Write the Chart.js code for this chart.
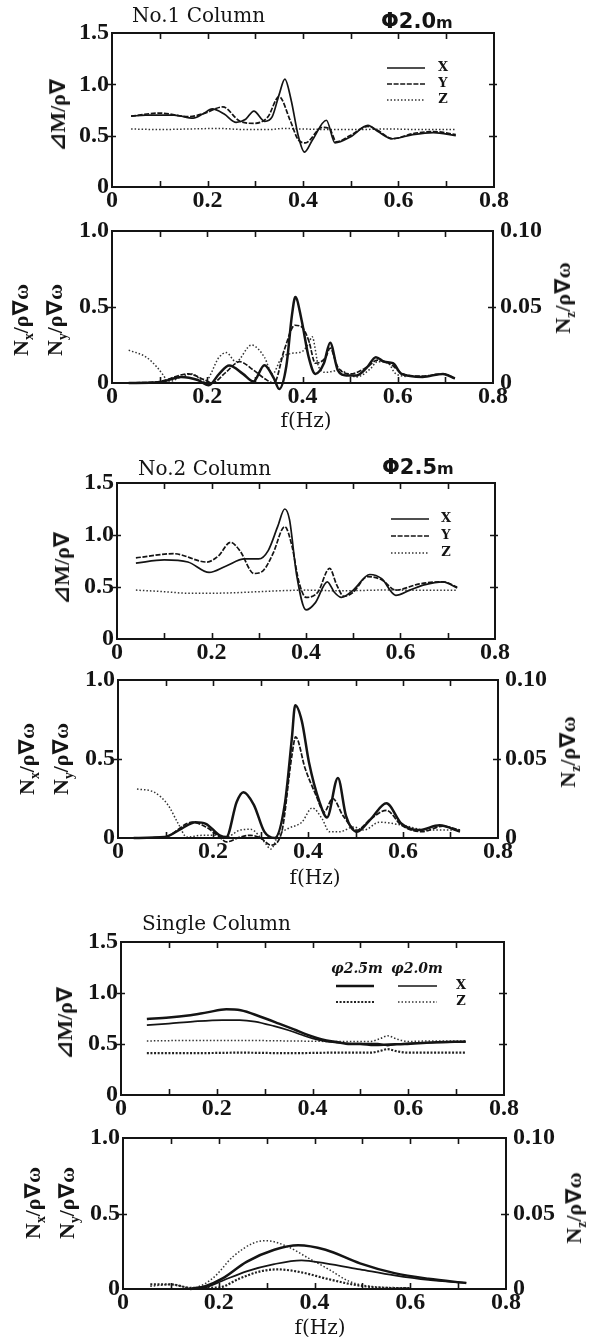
<!DOCTYPE html>
<html lang="en">
<head>
  <meta charset="UTF-8" />
  <title>Column force spectra</title>
  <script src="https://cdn.jsdelivr.net/npm/chart.js"></script>
  <style>
    body {
      margin: 0;
      background: #ffffff;
    }

    #page {
      position: relative;
      width: 600px;
      height: 1337px;
      overflow: hidden;
      color: #141414;
      font-family: 'DejaVu Serif', 'DejaVu Sans', 'Noto Sans CJK JP', serif;
    }

    #page canvas {
      position: absolute;
      left: 0;
    }

    .lbl {
      position: absolute;
      white-space: nowrap;
      line-height: 1;
    }

    .title {
      font-size: 20px;
      transform: translateY(-50%);
    }

    .dia {
      font-family: 'DejaVu Sans', sans-serif;
      font-weight: bold;
      font-size: 21px;
      transform: translateY(-50%);
    }

    .dia small {
      font-size: 16px;
    }

    .vt {
      font-family: 'Liberation Serif', 'DejaVu Sans', 'Noto Sans CJK JP', serif;
      font-size: 22px;
      font-weight: bold;
      transform: translate(-50%, -50%) rotate(-90deg);
    }

    .xt {
      font-size: 20px;
      transform: translate(-50%, -50%);
    }

    .lbl sub {
      font-size: 0.62em;
    }
  </style>
</head>
<body>
  <div id="page">
    <canvas id="c1"></canvas>
    <canvas id="c2"></canvas>
    <canvas id="c3"></canvas>
    <canvas id="c4"></canvas>
    <canvas id="c5"></canvas>
    <canvas id="c6"></canvas>

    <div class="lbl title" style="left:132px; top:15px;">No.1 Column</div>
    <div class="lbl dia" style="left:381px; top:21px;">Φ2.0<small>m</small></div>
    <div class="lbl vt" style="left:58px; top:115px;">⊿M/ρ∇</div>

    <div class="lbl vt" style="left:23px; top:320px;">N<sub>x</sub>/ρ∇ω</div>
    <div class="lbl vt" style="left:57px; top:320px;">N<sub>y</sub>/ρ∇ω</div>
    <div class="lbl vt" style="left:565px; top:298px;">N<sub>z</sub>/ρ∇ω</div>
    <div class="lbl xt" style="left:306px; top:420px;">f(Hz)</div>

    <div class="lbl title" style="left:138px; top:468px;">No.2 Column</div>
    <div class="lbl dia" style="left:382px; top:467px;">Φ2.5<small>m</small></div>
    <div class="lbl vt" style="left:62px; top:568px;">⊿M/ρ∇</div>

    <div class="lbl vt" style="left:29px; top:759px;">N<sub>x</sub>/ρ∇ω</div>
    <div class="lbl vt" style="left:63px; top:759px;">N<sub>y</sub>/ρ∇ω</div>
    <div class="lbl vt" style="left:570px; top:752px;">N<sub>z</sub>/ρ∇ω</div>
    <div class="lbl xt" style="left:315px; top:877px;">f(Hz)</div>

    <div class="lbl title" style="left:142px; top:923px;">Single Column</div>
    <div class="lbl vt" style="left:65px; top:1023px;">⊿M/ρ∇</div>

    <div class="lbl vt" style="left:35px; top:1203px;">N<sub>x</sub>/ρ∇ω</div>
    <div class="lbl vt" style="left:69px; top:1203px;">N<sub>y</sub>/ρ∇ω</div>
    <div class="lbl vt" style="left:576px; top:1208px;">N<sub>z</sub>/ρ∇ω</div>
    <div class="lbl xt" style="left:320px; top:1327px;">f(Hz)</div>
  </div>

  <script>
    // ---- No.1 column (Φ2.0m): moment amplitude ----
    const no1MomX_f = [0.04, 0.07, 0.10, 0.13, 0.17, 0.19, 0.21, 0.235, 0.26, 0.28, 0.297, 0.32, 0.335, 0.35, 0.362, 0.375, 0.39, 0.403, 0.42, 0.449, 0.467, 0.50, 0.536, 0.557, 0.587, 0.63, 0.673, 0.72];
    const no1MomX   = [0.69, 0.70, 0.70, 0.70, 0.67, 0.71, 0.76, 0.71, 0.63, 0.66, 0.74, 0.64, 0.68, 0.90, 1.05, 0.85, 0.50, 0.34, 0.46, 0.65, 0.43, 0.49, 0.60, 0.54, 0.47, 0.51, 0.53, 0.50];
    const no1MomY_f = [0.04, 0.10, 0.16, 0.195, 0.232, 0.268, 0.297, 0.326, 0.35, 0.373, 0.39, 0.405, 0.44, 0.455, 0.47, 0.50, 0.536, 0.557, 0.587, 0.63, 0.673, 0.72];
    const no1MomY   = [0.69, 0.72, 0.685, 0.72, 0.78, 0.64, 0.62, 0.68, 0.88, 0.65, 0.46, 0.43, 0.58, 0.57, 0.44, 0.505, 0.59, 0.55, 0.47, 0.52, 0.54, 0.51];
    const no1MomZ_f = [0.04, 0.10, 0.16, 0.22, 0.28, 0.33, 0.36, 0.40, 0.46, 0.52, 0.58, 0.64, 0.72];
    const no1MomZ   = [0.565, 0.56, 0.565, 0.57, 0.56, 0.56, 0.57, 0.565, 0.56, 0.56, 0.565, 0.56, 0.56];

    // ---- No.1 column: axial force (Z on the right-hand scale) ----
    const no1NX_f = [0.035, 0.10, 0.145, 0.18, 0.203, 0.225, 0.246, 0.275, 0.297, 0.32, 0.34, 0.351, 0.366, 0.378, 0.385, 0.398, 0.413, 0.427, 0.445, 0.458, 0.474, 0.492, 0.514, 0.536, 0.554, 0.572, 0.59, 0.608, 0.652, 0.695, 0.72];
    const no1NX   = [0, 0.005, 0.04, 0.02, -0.015, 0.06, 0.115, 0.06, 0.01, 0.117, 0.03, -0.04, 0.11, 0.45, 0.565, 0.415, 0.17, 0.06, 0.13, 0.265, 0.085, 0.05, 0.05, 0.105, 0.17, 0.14, 0.13, 0.06, 0.04, 0.06, 0.03];
    const no1NY_f = [0.035, 0.10, 0.16, 0.195, 0.21, 0.239, 0.268, 0.297, 0.32, 0.34, 0.362, 0.384, 0.398, 0.413, 0.427, 0.449, 0.458, 0.474, 0.50, 0.536, 0.557, 0.587, 0.61, 0.65, 0.695, 0.72];
    const no1NY   = [0, 0.01, 0.06, 0.02, 0, 0.07, 0.14, 0.085, 0.03, 0, 0.22, 0.38, 0.37, 0.28, 0.13, 0.17, 0.23, 0.105, 0.06, 0.105, 0.15, 0.12, 0.06, 0.045, 0.06, 0.03];
    const no1NZ_f = [0.035, 0.072, 0.094, 0.108, 0.118, 0.145, 0.167, 0.195, 0.225, 0.24, 0.26, 0.293, 0.32, 0.337, 0.355, 0.377, 0.398, 0.413, 0.42, 0.434, 0.449, 0.478, 0.50, 0.514, 0.543, 0.557, 0.58, 0.594, 0.62];
    const no1NZ   = [0.0216, 0.017, 0.0106, 0.005, 0.0007, 0.004, 0.006, 0.001, 0.017, 0.02, 0.014, 0.025, 0.017, 0.006, 0.016, 0.0195, 0.0205, 0.026, 0.0305, 0.0106, 0.007, 0.0085, 0.005, 0.004, 0.0095, 0.014, 0.013, 0.0066, 0.004];

    // ---- No.2 column (Φ2.5m): moment amplitude ----
    const no2MomX_f = [0.04, 0.10, 0.15, 0.195, 0.23, 0.27, 0.30, 0.32, 0.34, 0.355, 0.365, 0.38, 0.40, 0.42, 0.445, 0.46, 0.475, 0.50, 0.535, 0.56, 0.59, 0.62, 0.65, 0.69, 0.72];
    const no2MomX   = [0.73, 0.76, 0.74, 0.64, 0.70, 0.77, 0.77, 0.85, 1.08, 1.25, 1.15, 0.62, 0.28, 0.35, 0.55, 0.45, 0.40, 0.47, 0.62, 0.58, 0.42, 0.47, 0.52, 0.55, 0.49];
    const no2MomY_f = [0.04, 0.12, 0.19, 0.215, 0.24, 0.26, 0.29, 0.31, 0.33, 0.355, 0.37, 0.385, 0.40, 0.425, 0.45, 0.465, 0.48, 0.50, 0.53, 0.56, 0.59, 0.64, 0.69, 0.72];
    const no2MomY   = [0.78, 0.82, 0.74, 0.80, 0.93, 0.85, 0.63, 0.66, 0.82, 1.08, 0.90, 0.55, 0.40, 0.45, 0.68, 0.52, 0.41, 0.45, 0.60, 0.57, 0.47, 0.53, 0.55, 0.50];
    const no2MomZ_f = [0.04, 0.10, 0.15, 0.20, 0.25, 0.30, 0.35, 0.40, 0.45, 0.50, 0.55, 0.60, 0.65, 0.72];
    const no2MomZ   = [0.47, 0.455, 0.44, 0.44, 0.445, 0.455, 0.465, 0.47, 0.465, 0.465, 0.47, 0.47, 0.468, 0.47];

    // ---- No.2 column: axial force ----
    const no2NX_f = [0.033, 0.098, 0.134, 0.163, 0.185, 0.214, 0.228, 0.25, 0.264, 0.286, 0.308, 0.33, 0.351, 0.366, 0.373, 0.387, 0.402, 0.424, 0.44, 0.463, 0.48, 0.503, 0.532, 0.565, 0.597, 0.634, 0.677, 0.72];
    const no2NX   = [0, 0.006, 0.06, 0.10, 0.09, 0.017, 0.006, 0.23, 0.29, 0.21, 0.04, 0, 0.21, 0.63, 0.84, 0.74, 0.48, 0.23, 0.13, 0.38, 0.14, 0.04, 0.12, 0.22, 0.09, 0.05, 0.08, 0.04];
    const no2NY_f = [0.033, 0.098, 0.156, 0.185, 0.214, 0.228, 0.257, 0.279, 0.30, 0.322, 0.344, 0.366, 0.374, 0.394, 0.417, 0.434, 0.452, 0.474, 0.503, 0.532, 0.565, 0.597, 0.64, 0.684, 0.72];
    const no2NY   = [0, 0.006, 0.10, 0.07, 0.006, -0.025, 0.006, 0.017, 0, -0.045, 0.03, 0.52, 0.64, 0.44, 0.27, 0.165, 0.25, 0.14, 0.05, 0.12, 0.175, 0.08, 0.04, 0.075, 0.05];
    const no2NZ_f = [0.04, 0.076, 0.105, 0.127, 0.145, 0.177, 0.206, 0.228, 0.257, 0.279, 0.308, 0.322, 0.337, 0.358, 0.387, 0.409, 0.43, 0.445, 0.467, 0.496, 0.518, 0.55, 0.6, 0.65, 0.72];
    const no2NZ   = [0.031, 0.029, 0.021, 0.009, 0.0006, 0.0017, 0.0017, 0.0006, 0.005, 0.0055, -0.0025, -0.007, 0.0017, 0.006, 0.010, 0.019, 0.012, 0.004, 0.004, 0.007, 0.005, 0.010, 0.008, 0.005, 0.005];

    // ---- Single column, both diameters: moment amplitude ----
    const sglMomX25_f = [0.054, 0.10, 0.14, 0.18, 0.22, 0.25, 0.29, 0.33, 0.363, 0.39, 0.42, 0.45, 0.478, 0.50, 0.528, 0.56, 0.593, 0.65, 0.72];
    const sglMomX25   = [0.745, 0.76, 0.78, 0.81, 0.84, 0.83, 0.77, 0.70, 0.64, 0.59, 0.545, 0.52, 0.50, 0.50, 0.49, 0.495, 0.50, 0.515, 0.525];
    const sglMomX20_f = [0.054, 0.10, 0.15, 0.212, 0.248, 0.28, 0.32, 0.35, 0.377, 0.40, 0.428, 0.46, 0.50, 0.536, 0.557, 0.58, 0.62, 0.72];
    const sglMomX20   = [0.685, 0.70, 0.72, 0.735, 0.735, 0.72, 0.675, 0.635, 0.59, 0.555, 0.525, 0.51, 0.505, 0.505, 0.485, 0.50, 0.51, 0.52];
    const sglMomZ_f   = [0.054, 0.15, 0.25, 0.35, 0.45, 0.52, 0.54, 0.557, 0.575, 0.60, 0.65, 0.72];
    const sglMomZ25   = [0.41, 0.41, 0.415, 0.41, 0.415, 0.415, 0.43, 0.45, 0.43, 0.415, 0.415, 0.415];
    const sglMomZ20   = [0.53, 0.535, 0.535, 0.53, 0.525, 0.525, 0.55, 0.58, 0.55, 0.525, 0.53, 0.53];

    // ---- Single column: axial force ----
    const sglNX25_f = [0.14, 0.172, 0.208, 0.258, 0.316, 0.366, 0.423, 0.495, 0.567, 0.638, 0.717];
    const sglNX25   = [0, 0.018, 0.07, 0.18, 0.26, 0.29, 0.26, 0.17, 0.105, 0.068, 0.04];
    const sglNX20_f = [0.14, 0.172, 0.208, 0.258, 0.316, 0.373, 0.423, 0.495, 0.567, 0.638, 0.717];
    const sglNX20   = [0, 0.01, 0.055, 0.117, 0.165, 0.19, 0.17, 0.13, 0.09, 0.06, 0.04];
    const sglNZ20_f = [0.057, 0.10, 0.143, 0.187, 0.23, 0.273, 0.30, 0.344, 0.387, 0.43, 0.473, 0.516, 0.60];
    const sglNZ20   = [0.0018, 0.003, 0.0007, 0.007, 0.0215, 0.0305, 0.032, 0.028, 0.0205, 0.013, 0.005, 0.0018, 0.0007];
    const sglNZ25_f = [0.057, 0.10, 0.143, 0.20, 0.244, 0.287, 0.323, 0.373, 0.423, 0.48, 0.53, 0.60];
    const sglNZ25   = [0.003, 0.003, 0.0007, 0.001, 0.007, 0.0117, 0.013, 0.011, 0.007, 0.003, 0.001, 0.0005];

    const INK = '#141414';
    const SERIF = "'DejaVu Serif', serif";
    const tickFont = { family: "'Liberation Serif', serif", size: 24, weight: 'bold', lineHeight: 1 };

    const zip = (f, v) => f.map((x, i) => ({ x, y: v[i] }));

    const line = (label, f, v, style, axis = 'y') => ({
      label,
      data: zip(f, v),
      yAxisID: axis,
      borderColor: style.color || INK,
      borderWidth: style.width,
      borderDash: style.dash || [],
      pointRadius: 0,
      fill: false,
      clip: false,
      cubicInterpolationMode: 'monotone'
    });

    const SOLID = { width: 1.7 };
    const SOLID_BOLD = { width: 2.5 };
    const DASHED = { width: 1.7, dash: [5, 1.6] };
    const DOTTED = { width: 1.5, dash: [1.5, 2], color: '#333' };
    const DOTTED_BOLD = { width: 2.2, dash: [2, 1.6], color: '#222' };

    // box outline; x ticks point inward, y ticks straddle the frame
    const framePlugin = {
      id: 'frame',
      afterDatasetsDraw(chart) {
        const { ctx, chartArea: a, scales } = chart;
        const len = 6;
        ctx.save();
        ctx.strokeStyle = INK;
        ctx.lineWidth = 1.6;
        ctx.beginPath();
        scales.x.ticks.forEach((t, i, arr) => {
          if (i === 0 || i === arr.length - 1) return;
          const px = Math.round(scales.x.getPixelForValue(t.value)) + 0.5;
          ctx.moveTo(px, a.bottom); ctx.lineTo(px, a.bottom - len);
          ctx.moveTo(px, a.top); ctx.lineTo(px, a.top + len);
        });
        scales.y.ticks.forEach((t, i, arr) => {
          if (i === 0 || i === arr.length - 1) return;
          const py = Math.round(scales.y.getPixelForValue(t.value)) + 0.5;
          ctx.moveTo(a.left - 4, py); ctx.lineTo(a.left + 4, py);
          ctx.moveTo(a.right + 3, py); ctx.lineTo(a.right - 5, py);
        });
        ctx.stroke();
        ctx.lineWidth = 2;
        ctx.strokeRect(a.left, a.top, a.right - a.left, a.bottom - a.top);
        ctx.restore();
      }
    };

    // small line-style key drawn inside the plot
    const keyPlugin = {
      id: 'lineKey',
      afterDatasetsDraw(chart, args, opts) {
        const { ctx } = chart;
        const off = opts.top || 0;
        (opts.rows || []).forEach(r => {
          const ds = chart.data.datasets[r.ds];
          ctx.save();
          ctx.strokeStyle = ds.borderColor;
          ctx.lineWidth = ds.borderWidth;
          ctx.setLineDash(ds.borderDash || []);
          ctx.beginPath();
          ctx.moveTo(r.x1, r.y - off);
          ctx.lineTo(r.x2, r.y - off);
          ctx.stroke();
          ctx.restore();
        });
        (opts.texts || []).forEach(t => {
          ctx.save();
          ctx.font = t.font;
          ctx.fillStyle = INK;
          ctx.textAlign = 'center';
          ctx.textBaseline = 'middle';
          ctx.fillText(t.text, t.x, t.y - off);
          ctx.restore();
        });
      }
    };

    const fmtX = v => {
      const k = Math.round(v * 10);
      if (k % 2) return '';
      return k === 0 ? '0' : (k / 10).toFixed(1);
    };

    function buildPanel(id, box, datasets, opts = {}) {
      const padTop = 25, axisH = 40;
      const canvas = document.getElementById(id);
      const top = box.T - padTop;
      canvas.width = 600;
      canvas.height = padTop + (box.B - box.T) + axisH;
      canvas.style.top = top + 'px';

      const noGrid = { display: false, drawTicks: false };
      const scales = {
        x: {
          type: 'linear',
          min: 0,
          max: 0.8,
          grid: noGrid,
          border: { display: false },
          afterFit: s => { s.height = axisH; },
          ticks: { stepSize: 0.1, autoSkip: false, maxRotation: 0, padding: 2, color: INK, font: tickFont, callback: fmtX }
        },
        y: {
          min: 0,
          max: box.yMax,
          grid: noGrid,
          border: { display: false },
          afterFit: s => { s.width = box.L; },
          ticks: { stepSize: 0.5, padding: 3, color: INK, font: tickFont, callback: v => v === 0 ? '0' : v.toFixed(1) }
        }
      };
      if (box.right) {
        scales.y2 = {
          position: 'right',
          min: 0,
          max: 0.1,
          grid: noGrid,
          border: { display: false },
          afterFit: s => { s.width = 600 - box.R; },
          ticks: { stepSize: 0.05, padding: 7, color: INK, font: tickFont, callback: v => v === 0 ? '0' : v.toFixed(2) }
        };
      }

      return new Chart(canvas, {
        type: 'line',
        data: { datasets },
        plugins: [framePlugin, keyPlugin],
        options: {
          responsive: false,
          animation: false,
          events: [],
          layout: { padding: { top: padTop, left: 0, bottom: 0, right: box.right ? 0 : 600 - box.R } },
          plugins: {
            legend: { display: false },
            tooltip: { enabled: false },
            lineKey: Object.assign({ top }, opts.key || {})
          },
          scales
        }
      });
    }

    const keyXYZ = (x1, x2, y0, step, tx) => ({
      rows: [
        { ds: 0, x1, x2, y: y0 },
        { ds: 1, x1, x2, y: y0 + step },
        { ds: 2, x1, x2, y: y0 + 2 * step }
      ],
      texts: [
        { text: 'X', x: tx, y: y0, font: `bold 13px ${SERIF}` },
        { text: 'Y', x: tx, y: y0 + step, font: `bold 13px ${SERIF}` },
        { text: 'Z', x: tx, y: y0 + 2 * step, font: `bold 13px ${SERIF}` }
      ]
    });

    buildPanel('c1', { L: 112, R: 494, T: 33, B: 187, yMax: 1.5 }, [
      line('X', no1MomX_f, no1MomX, SOLID),
      line('Y', no1MomY_f, no1MomY, DASHED),
      line('Z', no1MomZ_f, no1MomZ, DOTTED)
    ], { key: keyXYZ(387, 425, 68, 16, 443) });

    buildPanel('c2', { L: 112, R: 493, T: 231, B: 383, yMax: 1.0, right: true }, [
      line('X', no1NX_f, no1NX, SOLID_BOLD),
      line('Y', no1NY_f, no1NY, DASHED),
      line('Z', no1NZ_f, no1NZ, DOTTED, 'y2')
    ]);

    buildPanel('c3', { L: 117, R: 495, T: 483, B: 639, yMax: 1.5 }, [
      line('X', no2MomX_f, no2MomX, SOLID),
      line('Y', no2MomY_f, no2MomY, DASHED),
      line('Z', no2MomZ_f, no2MomZ, DOTTED)
    ], { key: keyXYZ(391, 429, 519, 17, 446) });

    buildPanel('c4', { L: 118, R: 498, T: 680, B: 838, yMax: 1.0, right: true }, [
      line('X', no2NX_f, no2NX, SOLID_BOLD),
      line('Y', no2NY_f, no2NY, DASHED),
      line('Z', no2NZ_f, no2NZ, DOTTED, 'y2')
    ]);

    buildPanel('c5', { L: 121, R: 504, T: 942, B: 1095, yMax: 1.5 }, [
      line('Φ2.5m X', sglMomX25_f, sglMomX25, SOLID_BOLD),
      line('Φ2.0m X', sglMomX20_f, sglMomX20, SOLID),
      line('Φ2.5m Z', sglMomZ_f, sglMomZ25, DOTTED_BOLD),
      line('Φ2.0m Z', sglMomZ_f, sglMomZ20, DOTTED)
    ], {
      key: {
        rows: [
          { ds: 0, x1: 336, x2: 374, y: 986 },
          { ds: 1, x1: 398, x2: 437, y: 986 },
          { ds: 2, x1: 336, x2: 374, y: 1002 },
          { ds: 3, x1: 398, x2: 437, y: 1002 }
        ],
        texts: [
          { text: 'φ2.5m', x: 357, y: 969, font: `italic bold 14px ${SERIF}` },
          { text: 'φ2.0m', x: 417, y: 969, font: `italic bold 14px ${SERIF}` },
          { text: 'X', x: 461, y: 986, font: `bold 13px ${SERIF}` },
          { text: 'Z', x: 461, y: 1002, font: `bold 13px ${SERIF}` }
        ]
      }
    });

    buildPanel('c6', { L: 123, R: 506, T: 1138, B: 1289, yMax: 1.0, right: true }, [
      line('Φ2.5m X', sglNX25_f, sglNX25, SOLID_BOLD),
      line('Φ2.0m X', sglNX20_f, sglNX20, SOLID),
      line('Φ2.5m Z', sglNZ25_f, sglNZ25, DOTTED_BOLD, 'y2'),
      line('Φ2.0m Z', sglNZ20_f, sglNZ20, DOTTED, 'y2')
    ]);
  </script>
</body>
</html>
